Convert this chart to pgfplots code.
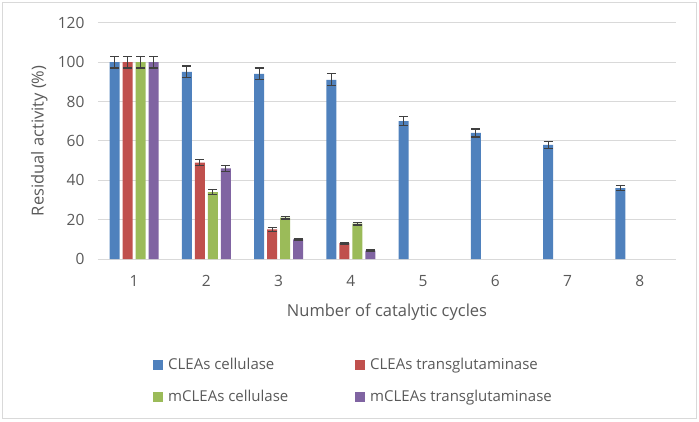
\documentclass[border=0pt]{standalone}
\usepackage{fontspec}
\setmainfont{Open Sans}
\usepackage{pgfplots}
\pgfplotsset{compat=1.18}
\definecolor{cblue}{HTML}{4F81BD}
\definecolor{cred}{HTML}{C0504D}
\definecolor{cgreen}{HTML}{9BBB59}
\definecolor{cpurple}{HTML}{8064A2}
\definecolor{txt}{HTML}{595959}
\definecolor{gridc}{HTML}{D9D9D9}
\definecolor{errc}{HTML}{404040}
\pgfplotsset{
  myerr/.style={
    error bars/y dir=both, error bars/y explicit,
    error bars/error bar style={line width=1.2pt, draw=errc},
    error bars/error mark options={rotate=90, mark size=4.4pt, line width=1.2pt, draw=errc}
  }
}
\begin{document}
\begin{tikzpicture}[x=1pt,y=1pt]
\useasboundingbox (0,0) rectangle (699,421);
\draw[gridc, line width=1pt] (2.5,2.5) rectangle (696.5,418.5);
\begin{axis}[
  at={(98pt,162pt)}, anchor=south west,
  scale only axis, width=578pt, height=236.3pt,
  ymin=0, ymax=120, ytick={0,20,...,120},
  xmin=0.5, xmax=8.5, xtick={1,...,8},
  ybar=3.2pt, bar width=9.8pt,
  axis line style={draw=none},
  major tick length=0pt,
  ymajorgrids, grid style={gridc, line width=1pt},
  /pgf/number format/assume math mode=true,
  tick label style={font=\fontsize{15.5}{18}\selectfont, text=txt},
  yticklabel style={xshift=-10pt},
  xticklabel style={yshift=-12.7pt},
  xlabel={Number of catalytic cycles},
  ylabel={Residual activity (\%)},
  label style={font=\fontsize{16.5}{20}\selectfont, text=txt},
  xlabel style={at={(axis description cs:0.5,-0.2243)}, anchor=center},
  ylabel style={at={(axis description cs:-0.1016,0.5)}, anchor=center},
  legend columns=2,
  legend style={at={(axis description cs:0.0952,-0.516)}, anchor=west,
    draw=none, fill=none, inner sep=0pt, row sep=19pt,
    font=\fontsize{15}{18}\selectfont, text=txt,
    nodes={inner sep=0pt},
    /tikz/every odd column/.append style={column sep=5pt},
    /tikz/every even column/.append style={column sep=0pt}},
  legend cell align=left,
]
\addplot[fill=cblue, draw=none, myerr, legend image code/.code={\fill[cblue] (0pt,-5pt) rectangle (10pt,5pt);}] coordinates {
  (1,100) +- (0,3)
  (2,95) +- (0,3)
  (3,94) +- (0,3)
  (4,91) +- (0,3)
  (5,70) +- (0,2.3)
  (6,64) +- (0,2)
  (7,58) +- (0,1.8)
  (8,36) +- (0,1.2)
};
\addlegendentry{\makebox[187pt][l]{CLEAs cellulase}}
\addplot[fill=cred, draw=none, myerr, legend image code/.code={\fill[cred] (0pt,-5pt) rectangle (10pt,5pt);}] coordinates {
  (1,100) +- (0,3)
  (2,49) +- (0,1.6)
  (3,15) +- (0,0.9)
  (4,8) +- (0,0.4)
};
\addlegendentry{CLEAs transglutaminase}
\addplot[fill=cgreen, draw=none, myerr, legend image code/.code={\fill[cgreen] (0pt,-5pt) rectangle (10pt,5pt);}] coordinates {
  (1,100) +- (0,3)
  (2,34) +- (0,1.2)
  (3,21) +- (0,0.7)
  (4,18) +- (0,0.7)
};
\addlegendentry{\makebox[187pt][l]{mCLEAs cellulase}}
\addplot[fill=cpurple, draw=none, myerr, legend image code/.code={\fill[cpurple] (0pt,-5pt) rectangle (10pt,5pt);}] coordinates {
  (1,100) +- (0,3)
  (2,46) +- (0,1.5)
  (3,10) +- (0,0.3)
  (4,4.2) +- (0,0.4)
};
\addlegendentry{mCLEAs transglutaminase}
\end{axis}
\end{tikzpicture}
\end{document}
